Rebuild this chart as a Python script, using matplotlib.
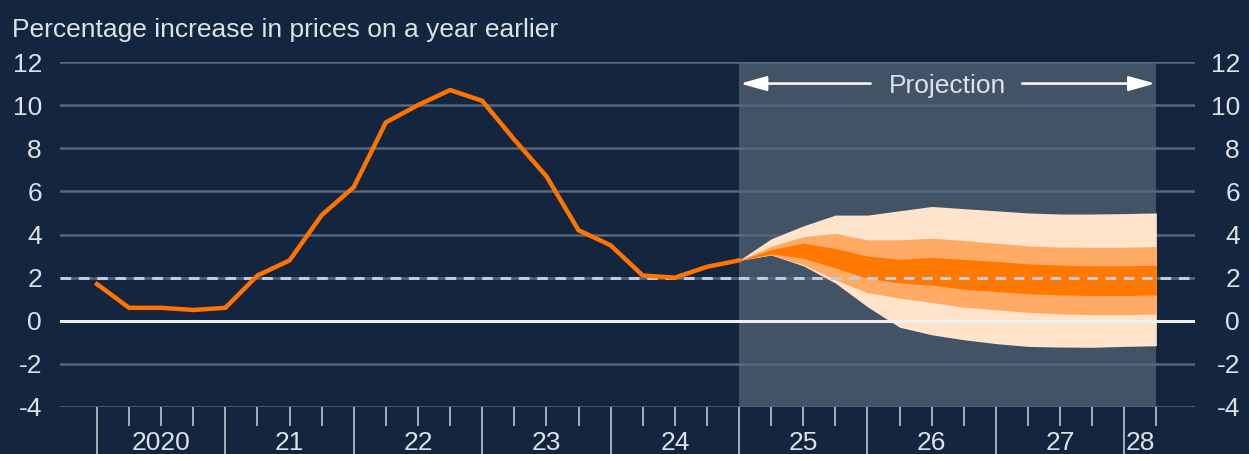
import numpy as np
import matplotlib
matplotlib.use("Agg")
import matplotlib.pyplot as plt

plt.rcParams['font.family'] = ['Liberation Sans', 'DejaVu Sans']

# CPI inflation, quarterly, 2020 Q1 to 2025 Q1
hist_start = "2020Q1"
cpi = [1.7, 0.6, 0.6, 0.5, 0.6, 2.1, 2.8, 4.9, 6.2, 9.2, 10.0, 10.7,
       10.2, 8.4, 6.7, 4.2, 3.5, 2.1, 2.0, 2.5, 2.8]

# fan chart bands, 2025 Q1 to 2028 Q2
proj_start = "2025Q1"
outer_top = [2.8, 3.8, 4.4, 4.9, 4.9, 5.1, 5.3, 5.2, 5.1, 5.0, 4.95, 4.95, 4.97, 5.0]
mid_top   = [2.8, 3.45, 3.9, 4.05, 3.75, 3.75, 3.83, 3.72, 3.6, 3.47, 3.42, 3.41, 3.41, 3.44]
in_top    = [2.8, 3.3, 3.6, 3.35, 3.0, 2.85, 2.94, 2.85, 2.75, 2.64, 2.58, 2.55, 2.55, 2.57]
in_bot    = [2.8, 3.1, 2.9, 2.45, 1.97, 1.75, 1.65, 1.46, 1.36, 1.25, 1.2, 1.17, 1.17, 1.2]
mid_bot   = [2.8, 3.05, 2.6, 1.9, 1.3, 1.05, 0.85, 0.63, 0.51, 0.39, 0.32, 0.28, 0.28, 0.31]
outer_bot = [2.8, 3.05, 2.55, 1.75, 0.65, -0.3, -0.65, -0.88, -1.06, -1.19, -1.22, -1.23, -1.19, -1.16]

target = 2.0
year_labels = ["2020", "21", "22", "23", "24", "25", "26", "27", "28"]
y_ticks = [-4, -2, 0, 2, 4, 6, 8, 10, 12]

BG = '#14253f'
SHADE = '#435366'
GRID = '#56687e'
TEXT = '#dde2e8'
ORANGE = '#ff7300'
FAN = ['#ffe3ca', '#ffab66', '#ff7800']
FS = 19


def qpos(q, n):
    # quarter string -> axis position, n consecutive quarters
    year, qq = int(q[:4]), int(q[-1])
    return year + (qq - 1) / 4 + 0.25 * np.arange(n)


x_hist = qpos(hist_start, len(cpi))
x_proj = qpos(proj_start, len(outer_top))

fig = plt.figure(figsize=(12.49, 4.54), dpi=100, facecolor=BG)
ax = fig.add_axes([60 / 1249, 47 / 454, 1135 / 1249, 345 / 454], facecolor=BG)

ax.set_xlim(2019.712, 2028.551)
ax.set_ylim(-4, 12)

# projection shading
ax.axvspan(x_proj[0], x_proj[-1], color=SHADE, lw=0, zorder=0)

for y in y_ticks:
    if y != 0:
        ax.axhline(y, color=GRID, lw=1.8, zorder=1)

ax.fill_between(x_proj, outer_bot, outer_top, color=FAN[0], lw=0, zorder=2)
ax.fill_between(x_proj, mid_bot, mid_top, color=FAN[1], lw=0, zorder=3)
ax.fill_between(x_proj, in_bot, in_top, color=FAN[2], lw=0, zorder=4)

ax.axhline(0, color='#f0f0f0', lw=2.2, zorder=5)
ax.axhline(target, color='#c3cad3', lw=2.2, dashes=(3.5, 2.5), zorder=5)

ax.plot(x_hist, cpi, color=ORANGE, lw=3.2, solid_joinstyle='miter', zorder=6)

# projection arrows and label
mid = (x_proj[0] + x_proj[-1]) / 2
ax.text(mid, 10.54, "Projection", color=TEXT, fontsize=FS, ha='center', va='baseline', zorder=7)
arrow = dict(arrowstyle='-|>,head_length=1.6,head_width=0.45', color='white', lw=1.8,
             shrinkA=0, shrinkB=0)
ax.annotate("", xy=(x_proj[0] + 0.01, 11), xytext=(mid - 0.6, 11), arrowprops=arrow, zorder=7)
ax.annotate("", xy=(x_proj[-1] - 0.01, 11), xytext=(mid + 0.58, 11), arrowprops=arrow, zorder=7)

for s in ax.spines.values():
    s.set_visible(False)

# y labels on the left
ax.set_yticks(y_ticks)
ax.set_yticklabels([str(v) for v in y_ticks])
ax.tick_params(axis='y', length=0, pad=13, labelsize=FS, labelcolor=TEXT)

# y labels on the right, right-aligned
ax2 = ax.twinx()
ax2.set_ylim(ax.get_ylim())
ax2.set_yticks(y_ticks)
ax2.set_yticklabels([str(v) for v in y_ticks], ha='right')
ax2.tick_params(axis='y', length=0, pad=32.4, labelsize=FS, labelcolor=TEXT)
for s in ax2.spines.values():
    s.set_visible(False)

# x axis: long ticks at year starts, short ticks at quarters
years = np.arange(2020, 2029)
ax.set_xticks(years)
ax.set_xticklabels([])
ax.set_xticks(np.arange(2020, 2028.3, 0.25), minor=True)
ax.tick_params(axis='x', which='major', length=46, width=1.3, color='#b0bac6')
ax.tick_params(axis='x', which='minor', length=14, width=1.3, color='#b0bac6')

sec = ax.secondary_xaxis('bottom')
sec.set_xticks(list(years[:-1] + 0.5) + [2028.125], year_labels)
sec.tick_params(length=0, pad=17, labelsize=FS, labelcolor=TEXT)
for s in sec.spines.values():
    s.set_visible(False)

fig.text(12 / 1249, 1 - 36.7 / 454, "Percentage increase in prices on a year earlier",
         color=TEXT, fontsize=FS, ha='left', va='baseline')

fig.savefig("out.png", dpi=100, facecolor=BG)
